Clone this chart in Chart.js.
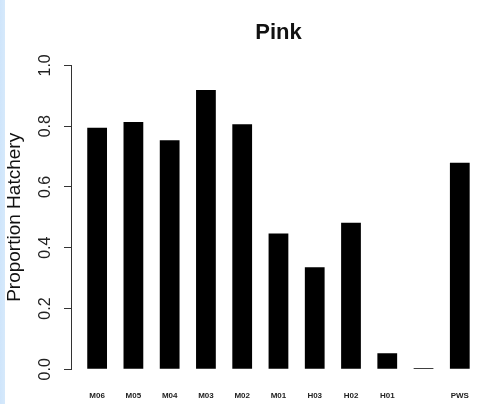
<!DOCTYPE html>
<html>
<head>
<meta charset="utf-8">
<script src="https://cdn.jsdelivr.net/npm/chart.js@4/dist/chart.umd.min.js"></script>
<style>
  html, body { margin: 0; padding: 0; }
  body { width: 491px; height: 404px; overflow: hidden;
         background: linear-gradient(to right, #cfe5fb 0px, #d6e9fb 5px, #ffffff 5px); }
  canvas { display: block; }
</style>
</head>
<body>
<canvas id="c" width="491" height="404"></canvas>
<script>
const chartTitle = 'Pink';
const yAxisTitle = 'Proportion Hatchery';
const categories = ['M06', 'M05', 'M04', 'M03', 'M02', 'M01', 'H03', 'H02', 'H01', '', 'PWS'];
const proportionHatchery = [0.795, 0.814, 0.754, 0.919, 0.806, 0.447, 0.336, 0.482, 0.053, 0.004, 0.680];
const yTickValues = [0, 0.2, 0.4, 0.6, 0.8, 1.0];

const FONT = '"Liberation Sans", Arial, Helvetica, sans-serif';

new Chart(document.getElementById('c'), {
  type: 'bar',
  data: {
    labels: categories,
    datasets: [{
      data: proportionHatchery,
      backgroundColor: '#000000',
      borderWidth: 0,
      barPercentage: 0.545,
      categoryPercentage: 1.0
    }]
  },
  options: {
    responsive: false,
    devicePixelRatio: 1,
    animation: false,
    layout: { padding: { left: 0, right: 0, top: 0, bottom: 0 } },
    plugins: {
      legend: { display: false },
      tooltip: { enabled: false },
      title: {
        display: true,
        text: chartTitle,
        fullSize: false,
        color: '#111111',
        font: { family: FONT, size: 22, weight: 'bold' },
        padding: { top: 20, bottom: 19 }
      }
    },
    scales: {
      x: {
        type: 'category',
        offset: true,
        grid: { display: false, drawTicks: false, tickLength: 0 },
        border: { display: false },
        ticks: {
          autoSkip: false,
          maxRotation: 0,
          minRotation: 0,
          padding: 21.5,
          color: '#222222',
          font: { family: FONT, size: 8, weight: 'bold' }
        },
        afterFit: (s) => { s.height = 34.7; }
      },
      y: {
        type: 'linear',
        position: 'left',
        weight: 1,
        min: 0,
        max: 1,
        afterBuildTicks: (s) => { s.ticks = yTickValues.map(v => ({ value: v })); },
        grid: { display: true, drawOnChartArea: false, drawTicks: true, tickLength: 7, color: '#333333', lineWidth: 1 },
        border: { display: true, color: '#333333', width: 1 },
        ticks: {
          minRotation: 90,
          maxRotation: 90,
          crossAlign: 'center',
          padding: 7.5,
          color: '#222222',
          font: { family: FONT, size: 16 },
          callback: (v) => Number(v).toFixed(1)
        },
        title: {
          display: true,
          text: yAxisTitle,
          color: '#111111',
          font: { family: FONT, size: 19 },
          padding: { top: 3.5, bottom: 4 }
        },
        afterFit: (s) => { s.width = 71; }
      },
      ySpacer: {
        type: 'linear',
        position: 'left',
        weight: 0,
        display: true,
        grid: { display: false, drawTicks: false },
        border: { display: false },
        ticks: { display: false },
        afterFit: (s) => { s.width = 8; }
      }
    }
  }
});
</script>
</body>
</html>
